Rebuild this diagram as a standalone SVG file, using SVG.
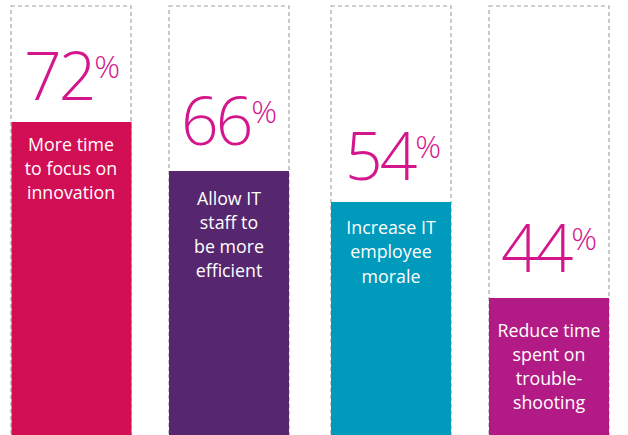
<svg xmlns="http://www.w3.org/2000/svg" width="628" height="435" viewBox="0 0 628 435">
<style>
.frame{fill:none;stroke:#a8a4a0;stroke-width:1.2;stroke-dasharray:4 3}
.num{font-family:"Open Sans","Liberation Sans",sans-serif;font-weight:300;fill:#d4168c;font-size:66px;letter-spacing:-3px}
.pct{font-size:32px;letter-spacing:0}
.lbl{font-family:"Open Sans","Liberation Sans",sans-serif;fill:#ffffff;font-size:17.8px;text-anchor:middle}
</style>
<rect width="628" height="435" fill="#ffffff"/>
<g id="col1">
<rect class="frame" x="11" y="6" width="120" height="430"/>
<rect x="11.5" y="122" width="120" height="313" fill="#d20e55"/>
<text class="num" x="24" y="100">72<tspan class="pct" dx="1" dy="-22">%</tspan></text>
<text class="lbl" x="71" y="151">More time</text>
<text class="lbl" x="71" y="175">to focus on</text>
<text class="lbl" x="71" y="199">innovation</text>
</g>
<g id="col2">
<rect class="frame" x="169" y="6" width="120" height="430"/>
<rect x="169" y="171" width="120" height="264" fill="#56276f"/>
<text class="num" x="181" y="145">66<tspan class="pct" dx="1" dy="-22">%</tspan></text>
<text class="lbl" x="229" y="205">Allow IT</text>
<text class="lbl" x="229" y="229">staff to</text>
<text class="lbl" x="229" y="253">be more</text>
<text class="lbl" x="229" y="277">efficient</text>
</g>
<g id="col3">
<rect class="frame" x="331" y="6" width="120" height="430"/>
<rect x="331" y="202" width="120" height="233" fill="#009abd"/>
<text class="num" x="345" y="180">54<tspan class="pct" dx="1" dy="-22">%</tspan></text>
<text class="lbl" x="391" y="234">Increase IT</text>
<text class="lbl" x="391" y="258">employee</text>
<text class="lbl" x="391" y="283">morale</text>
</g>
<g id="col4">
<rect class="frame" x="489" y="6" width="120" height="430"/>
<rect x="489" y="298" width="120" height="137" fill="#b21b86"/>
<text class="num" x="501" y="272">44<tspan class="pct" dx="1" dy="-22">%</tspan></text>
<text class="lbl" x="549" y="337">Reduce time</text>
<text class="lbl" x="549" y="361">spent on</text>
<text class="lbl" x="549" y="385">trouble-</text>
<text class="lbl" x="549" y="409">shooting</text>
</g>
<g id="connectors"/>
</svg>
